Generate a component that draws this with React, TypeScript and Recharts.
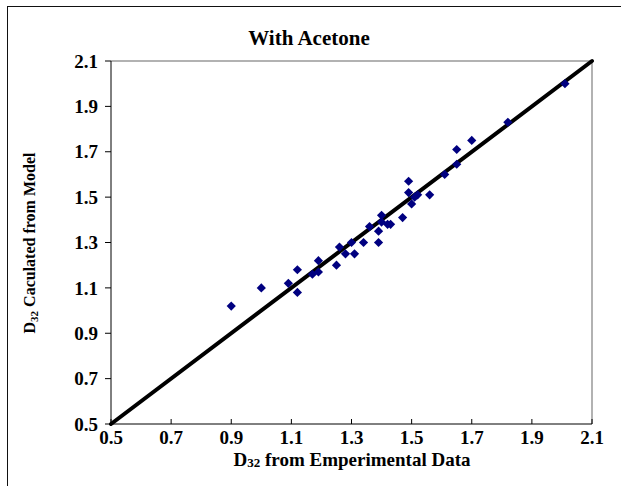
import React from "react";
import {
  ScatterChart,
  Scatter,
  XAxis,
  YAxis,
  ReferenceLine,
} from "recharts";

const xTicks = [0.5, 0.7, 0.9, 1.1, 1.3, 1.5, 1.7, 1.9, 2.1];
const yTicks = [0.5, 0.7, 0.9, 1.1, 1.3, 1.5, 1.7, 1.9, 2.1];

const experimental = [
  0.9, 1.0, 1.09, 1.12, 1.12, 1.17, 1.19, 1.19, 1.25, 1.26, 1.28, 1.3, 1.31,
  1.34, 1.36, 1.39, 1.39, 1.4, 1.42, 1.43, 1.4, 1.47, 1.49, 1.49, 1.51, 1.52,
  1.5, 1.56, 1.61, 1.65, 1.65, 1.7, 1.82, 2.01,
];
const model = [
  1.02, 1.1, 1.12, 1.18, 1.08, 1.16, 1.17, 1.22, 1.2, 1.28, 1.25, 1.3, 1.25,
  1.3, 1.37, 1.3, 1.35, 1.42, 1.38, 1.38, 1.39, 1.41, 1.57, 1.52, 1.5, 1.51,
  1.47, 1.51, 1.6, 1.645, 1.71, 1.75, 1.83, 2.0,
];

const fitX = [0.5, 2.1];
const fitY = [0.5, 2.1];

const points = experimental.map((x, i) => ({ x, y: model[i] }));

const FONT = "'Liberation Serif', 'Times New Roman', serif";

const Diamond = (props: any) => {
  const { cx, cy } = props;
  const r = 4.6;
  return (
    <polygon
      points={`${cx},${cy - r} ${cx + r},${cy} ${cx},${cy + r} ${cx - r},${cy}`}
      fill="#000080"
    />
  );
};

const TICK_MARGIN = 5;

const XTick = (props: any) => {
  const { x, y, payload } = props;
  const axisY = y - TICK_MARGIN;
  return (
    <g>
      <line x1={x} y1={axisY} x2={x} y2={axisY - 5} stroke="#000" strokeWidth={1} />
      <text
        x={x}
        y={y}
        dy="0.78em"
        textAnchor="middle"
        fontFamily={FONT}
        fontWeight="bold"
        fontSize={19}
        fill="#000"
      >
        {Number(payload.value).toFixed(1)}
      </text>
    </g>
  );
};

export default function App() {
  return (
    <div
      style={{
        position: "fixed",
        left: 0,
        top: 0,
        width: 621,
        height: 486,
        overflow: "hidden",
        background: "#fff",
      }}
    >
      <div
        style={{
          position: "absolute",
          left: 7,
          top: 6,
          width: 700,
          height: 600,
          border: "1.5px solid #111",
        }}
      />
      <div style={{ position: "absolute", left: 0, top: 0 }}>
        <ScatterChart
          width={621}
          height={486}
          margin={{ top: 61, right: 29, bottom: 22, left: 41 }}
        >
          <XAxis
            type="number"
            dataKey="x"
            domain={[0.5, 2.1]}
            ticks={xTicks}
            allowDataOverflow
            interval={0}
            tickSize={0}
            tickMargin={TICK_MARGIN}
            height={40}
            axisLine={{ stroke: "#000", strokeWidth: 1 }}
            tick={<XTick />}
          />
          <YAxis
            type="number"
            dataKey="y"
            domain={[0.5, 2.1]}
            ticks={yTicks}
            allowDataOverflow
            interval={0}
            width={70}
            tickSize={6}
            tickMargin={7}
            tickFormatter={(v: number) => v.toFixed(1)}
            axisLine={{ stroke: "#000", strokeWidth: 1 }}
            tickLine={{ stroke: "#000" }}
            tick={{
              fill: "#000",
              fontFamily: FONT,
              fontWeight: "bold",
              fontSize: 19,
            }}
          />
          <ReferenceLine y={2.1} stroke="#999" strokeWidth={1.5} ifOverflow="extendDomain" />
          <ReferenceLine x={2.1} stroke="#999" strokeWidth={1.5} ifOverflow="extendDomain" />
          <ReferenceLine
            segment={[
              { x: fitX[0], y: fitY[0] },
              { x: fitX[1], y: fitY[1] },
            ]}
            stroke="#000"
            strokeWidth={4}
            strokeLinecap="round"
          />
          <Scatter
            data={points}
            shape={<Diamond />}
            isAnimationActive={false}
          />
        </ScatterChart>
      </div>
      <svg
        width={621}
        height={486}
        style={{ position: "absolute", left: 0, top: 0, pointerEvents: "none" }}
      >
        <text
          x={309}
          y={45}
          textAnchor="middle"
          fontFamily={FONT}
          fontWeight="bold"
          fontSize={21}
          fill="#000"
        >
          With Acetone
        </text>
        <text
          x={352}
          y={466}
          textAnchor="middle"
          fontFamily={FONT}
          fontWeight="bold"
          fontSize={19}
          fill="#000"
        >
          D
          <tspan fontSize={13} dy={1}>32</tspan>
          <tspan dy={-1}> from Emperimental Data</tspan>
        </text>
        <text
          transform="translate(35,243) rotate(-90)"
          x={0}
          y={0}
          textAnchor="middle"
          fontFamily={FONT}
          fontWeight="bold"
          fontSize={16}
          fill="#000"
        >
          D
          <tspan fontSize={11} dy={3}>32</tspan>
          <tspan dy={-3}> Caculated from Model</tspan>
        </text>
      </svg>
    </div>
  );
}
